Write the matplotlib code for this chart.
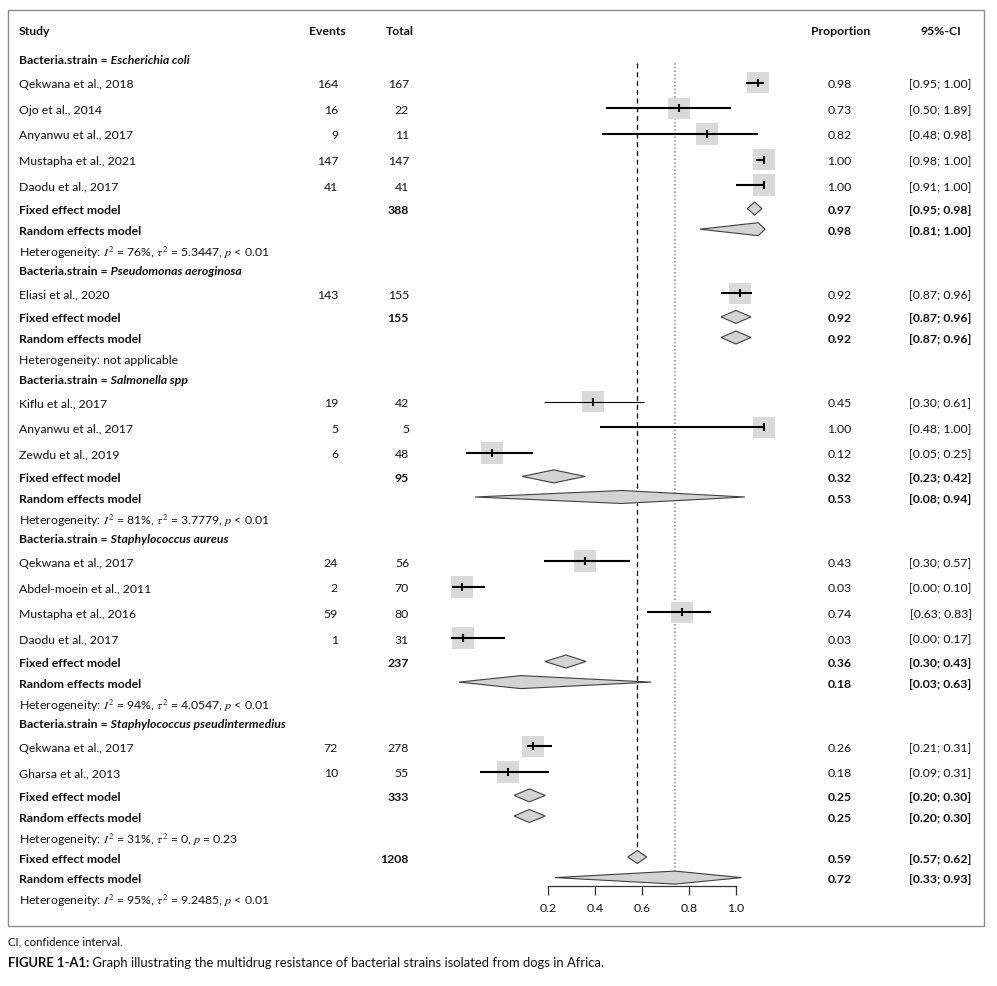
import matplotlib
matplotlib.use("Agg")
import matplotlib.pyplot as plt
from matplotlib.patches import Polygon, Rectangle

plt.rcParams['font.family'] = ['Lato', 'DejaVu Sans']
plt.rcParams['mathtext.fontset'] = 'stix'

# --- data ---
group_names = ["Escherichia coli", "Pseudomonas aeroginosa", "Salmonella spp",
               "Staphylococcus aureus", "Staphylococcus pseudintermedius"]
group_sizes = [5, 1, 3, 4, 2]

study_names = ["Qekwana et al., 2018", "Ojo et al., 2014", "Anyanwu et al., 2017",
               "Mustapha et al., 2021", "Daodu et al., 2017",
               "Eliasi et al., 2020",
               "Kiflu et al., 2017", "Anyanwu et al., 2017", "Zewdu et al., 2019",
               "Qekwana et al., 2017", "Abdel-moein et al., 2011", "Mustapha et al., 2016",
               "Daodu et al., 2017",
               "Qekwana et al., 2017", "Gharsa et al., 2013"]
study_events = [164, 16, 9, 147, 41, 143, 19, 5, 6, 24, 2, 59, 1, 72, 10]
study_totals = [167, 22, 11, 147, 41, 155, 42, 5, 48, 56, 70, 80, 31, 278, 55]
study_prop = ["0.98", "0.73", "0.82", "1.00", "1.00", "0.92", "0.45", "1.00", "0.12",
              "0.43", "0.03", "0.74", "0.03", "0.26", "0.18"]
study_ci = ["[0.95; 1.00]", "[0.50; 1.89]", "[0.48; 0.98]", "[0.98; 1.00]", "[0.91; 1.00]",
            "[0.87; 0.96]", "[0.30; 0.61]", "[0.48; 1.00]", "[0.05; 0.25]", "[0.30; 0.57]",
            "[0.00; 0.10]", "[0.63; 0.83]", "[0.00; 0.17]", "[0.21; 0.31]", "[0.09; 0.31]"]
# where the marks sit on the drawn axis
study_mark = [1.094, 0.758, 0.877, 1.121, 1.121, 1.018, 0.391, 1.121, -0.040,
              0.357, -0.168, 0.771, -0.164, 0.135, 0.028]
study_lo = [1.043, 0.446, 0.429, 1.086, 1.000, 0.936, 0.182, 0.420, -0.151,
            0.182, -0.211, 0.621, -0.215, 0.111, -0.092]
study_hi = [1.121, 0.979, 1.097, 1.121, 1.121, 1.068, 0.607, 1.121, 0.135,
            0.549, -0.070, 0.894, 0.015, 0.215, 0.203]

fixed_totals = [388, 155, 95, 237, 333]
fixed_prop = ["0.97", "0.92", "0.32", "0.36", "0.25"]
fixed_ci = ["[0.95; 0.98]", "[0.87; 0.96]", "[0.23; 0.42]", "[0.30; 0.43]", "[0.20; 0.30]"]
fixed_mark = [1.081, 1.001, 0.223, 0.276, 0.119]
fixed_lo = [1.049, 0.937, 0.089, 0.185, 0.054]
fixed_hi = [1.112, 1.065, 0.357, 0.361, 0.187]

random_prop = ["0.98", "0.92", "0.53", "0.18", "0.25"]
random_ci = ["[0.81; 1.00]", "[0.87; 0.96]", "[0.08; 0.94]", "[0.03; 0.63]", "[0.20; 0.30]"]
random_mark = [1.096, 1.001, 0.513, 0.083, 0.119]
random_lo = [0.847, 0.937, -0.113, -0.181, 0.054]
random_hi = [1.125, 1.065, 1.039, 0.638, 0.187]

group_het = [r"$I^2$ = 76%, $\tau^2$ = 5.3447, $p$ < 0.01",
             "not applicable",
             r"$I^2$ = 81%, $\tau^2$ = 3.7779, $p$ < 0.01",
             r"$I^2$ = 94%, $\tau^2$ = 4.0547, $p$ < 0.01",
             r"$I^2$ = 31%, $\tau^2$ = 0, $p$ = 0.23"]

overall_total = 1208
overall_fixed = ("0.59", "[0.57; 0.62]", 0.580, 0.539, 0.620)
overall_random = ("0.72", "[0.33; 0.93]", 0.741, 0.228, 1.025)
overall_het = r"$I^2$ = 95%, $\tau^2$ = 9.2485, $p$ < 0.01"

axis_ticks = [0.2, 0.4, 0.6, 0.8, 1.0]
thin_ci = [6]  # Kiflu et al. is drawn with a thin line

# --- layout ---
W, H = 997, 987
fig = plt.figure(figsize=(W / 100, H / 100), dpi=100)
bg = fig.add_axes([0, 0, 1, 1])
bg.set_xlim(0, W)
bg.set_ylim(H, 0)
bg.axis('off')


def px2val(px):
    return 0.2 + (px - 548.3) / 234.3


fx0, fx1 = 440, 790
fa = fig.add_axes([fx0 / W, 0, (fx1 - fx0) / W, 1])
fa.set_xlim(px2val(fx0), px2val(fx1))
fa.set_ylim(H, 0)
fa.patch.set_visible(False)
for s in ['top', 'left', 'right']:
    fa.spines[s].set_visible(False)
fa.set_yticks([])

FS = 8.8
INK = '#111111'
X_NAME, X_EV, X_TOT, X_PROP, X_CI = 19, 338, 409, 851.5, 971.5

# rows
rows = []
si = 0
for g, n in enumerate(group_sizes):
    rows.append(('group', g))
    for _ in range(n):
        rows.append(('study', si))
        si += 1
    rows.append(('fixed', g))
    rows.append(('random', g))
    rows.append(('het', g))
rows.append(('fixed', None))
rows.append(('random', None))
rows.append(('het', None))

gap = {('group', 'study'): 23.7, ('study', 'study'): 25.6, ('study', 'fixed'): 23.5,
       ('fixed', 'random'): 20.6, ('random', 'het'): 20.5, ('het', 'group'): 20.0,
       ('het', 'fixed'): 20.5}
ys = []
y = 60.0
for k, (kind, _) in enumerate(rows):
    if k > 0:
        y += gap[(rows[k - 1][0], kind)]
    ys.append(y)


def txt(x, y, s, ha='left', bold=False, italic=False, size=FS):
    return bg.text(x, y, s, ha=ha, va='center_baseline', fontsize=size,
                   fontweight='bold' if bold else 'normal',
                   fontstyle='italic' if italic else 'normal', color=INK)


def diamond(mark, lo, hi, y, h=6.5):
    fa.add_patch(Polygon([(lo, y), (mark, y - h), (hi, y), (mark, y + h)], closed=True,
                         facecolor='#d3d3d3', edgecolor='#404040', lw=0.8, zorder=3))


# column headers
txt(X_NAME, 30.7, "Study", bold=True)
txt(327, 30.7, "Events", ha='center', bold=True)
txt(400, 30.7, "Total", ha='center', bold=True)
txt(841, 30.7, "Proportion", ha='center', bold=True)
txt(941, 30.7, "95%-CI", ha='center', bold=True)

y_fixed_all = y_random_all = None
for (kind, i), y in zip(rows, ys):
    if kind == 'group':
        t = txt(X_NAME, y, "Bacteria.strain =", bold=True)
        bg.annotate(" " + group_names[i], xy=(1, 0), xycoords=t, ha='left', va='bottom',
                    fontsize=FS, fontweight='bold', fontstyle='italic', color=INK)
    elif kind == 'study':
        txt(X_NAME, y, study_names[i])
        txt(X_EV, y, str(study_events[i]), ha='right')
        txt(X_TOT, y, str(study_totals[i]), ha='right')
        txt(X_PROP, y, study_prop[i], ha='right')
        txt(X_CI, y, study_ci[i], ha='right')
        fa.scatter([study_mark[i]], [y], marker='s', s=240, color='#d9d9d9',
                   edgecolors='none', zorder=2)
        lw = 0.8 if i in thin_ci else 1.5
        fa.hlines(y, study_lo[i], study_hi[i], color='black', lw=lw, zorder=3)
        fa.plot([study_mark[i]], [y], marker='|', ms=5.5, mew=1.5, color='black', zorder=4)
    elif kind == 'fixed':
        txt(X_NAME, y, "Fixed effect model", bold=True)
        if i is None:
            txt(X_TOT, y, str(overall_total), ha='right', bold=True)
            p, c, m, lo, hi = overall_fixed
            y_fixed_all = y
        else:
            txt(X_TOT, y, str(fixed_totals[i]), ha='right', bold=True)
            p, c, m, lo, hi = fixed_prop[i], fixed_ci[i], fixed_mark[i], fixed_lo[i], fixed_hi[i]
        txt(X_PROP, y, p, ha='right', bold=True)
        txt(X_CI, y, c, ha='right', bold=True)
        diamond(m, lo, hi, y)
    elif kind == 'random':
        txt(X_NAME, y, "Random effects model", bold=True)
        if i is None:
            p, c, m, lo, hi = overall_random
            y_random_all = y
        else:
            p, c, m, lo, hi = random_prop[i], random_ci[i], random_mark[i], random_lo[i], random_hi[i]
        txt(X_PROP, y, p, ha='right', bold=True)
        txt(X_CI, y, c, ha='right', bold=True)
        diamond(m, lo, hi, y)
    else:
        het = overall_het if i is None else group_het[i]
        txt(X_NAME, y, "Heterogeneity: " + het)

# reference lines for the pooled estimates
fa.vlines(overall_fixed[2], 64, y_fixed_all - 6.5, color='black', lw=0.9,
          linestyles=(0, (4, 3)), zorder=1)
fa.vlines(overall_random[2], 64, y_random_all - 6.5, color='#a0a0a0', lw=1.2,
          linestyles=(0, (1, 1.2)), zorder=1)

# axis
fa.spines['bottom'].set_position(('data', 887.3))
fa.spines['bottom'].set_bounds(axis_ticks[0], axis_ticks[-1])
fa.spines['bottom'].set_color('#333333')
fa.spines['bottom'].set_linewidth(0.9)
fa.set_xticks(axis_ticks)
fa.set_xticklabels([f"{t:.1f}" for t in axis_ticks])
fa.tick_params(axis='x', direction='out', length=6.8, width=0.9, color='#333333',
               pad=4.5, labelsize=FS, labelcolor=INK)

# frame and footer
bg.add_patch(Rectangle((8, 11), 976, 916, fill=False, edgecolor='#8c8c8c', lw=1.0))
txt(8, 940.7, "CI, confidence interval.", size=8.2)
t = txt(8, 962, "FIGURE 1-A1:", bold=True, size=9.4)
bg.annotate(" Graph illustrating the multidrug resistance of bacterial strains isolated from dogs in Africa.",
            xy=(1, 0), xycoords=t, ha='left', va='bottom', fontsize=9.4, color=INK)

fig.savefig("out.png", dpi=100)
